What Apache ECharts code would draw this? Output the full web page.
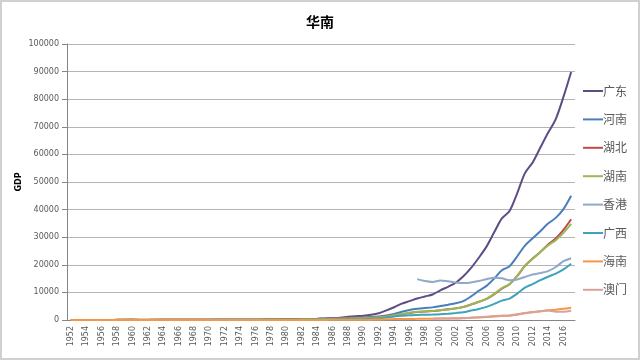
<!DOCTYPE html>
<html>
<head>
<meta charset="utf-8">
<script src="https://cdn.jsdelivr.net/npm/echarts@6/dist/echarts.min.js"></script>
<style>
html,body{margin:0;padding:0;background:#fff;}
#chart{width:640px;height:360px;}
</style>
</head>
<body>
<div id="chart"></div>
<script>
const years = [];
for (let y = 1952; y <= 2017; y++) years.push(String(y));

const titleText = '华南';
const yAxisName = 'GDP';
const seriesNames = ['广东', '河南', '湖北', '湖南', '香港', '广西', '海南', '澳门'];

const guangdong = [18,21,25,27,30,33,38,44,46,42,45,49,57,67,73,71,68,77,86,94,98,105,112,118,125,145,
  186,209,249,290,340,368,459,577,668,846,1155,1381,1559,1893,2448,3469,4619,5934,6835,7775,8531,9250,
  10741,12039,13502,15845,18865,22557,26588,31777,36797,39483,46013,53210,57068,62475,67810,72813,80855,89879];
const henan = [27,32,34,36,40,40,46,53,50,45,43,45,49,60,71,66,68,80,89,100,105,113,122,134,120,140,
  163,190,229,249,263,327,370,451,502,610,749,811,935,1045,1280,1660,2217,3003,3661,4079,4357,4576,
  5053,5533,6035,6868,8554,10587,12363,15012,18018,19480,23092,26931,29599,32191,34938,37002,40160,44988];
const hubei = [23,27,30,30,38,38,48,56,60,52,48,52,60,70,80,76,70,82,98,107,111,119,118,126,120,134,
  151,188,199,219,242,263,329,397,443,518,626,717,824,914,1088,1325,1700,2109,2500,2857,3114,3229,
  3546,3881,4213,4757,5633,6590,7617,9333,11329,12961,15968,19632,22250,24668,27379,29550,32665,36523];
const hunan = [27,30,33,35,40,41,48,52,55,47,46,52,58,68,77,78,72,84,97,103,107,113,113,126,120,130,
  147,178,191,210,232,257,287,350,397,470,584,640,744,834,1004,1285,1694,2196,2647,2993,3118,3215,
  3552,3832,4152,4660,5642,6596,7689,9440,11555,13060,16038,19670,22154,24622,27037,28902,31551,34800];
const hongkong = [null,null,null,null,null,null,null,null,null,null,null,null,null,null,null,null,null,null,null,null,null,null,null,null,null,null,
  null,null,null,null,null,null,null,null,null,null,null,null,null,null,null,null,null,null,null,14800,14100,13800,
  14300,14000,13600,13400,13600,14100,14800,15300,15100,14400,14700,15600,16500,17000,17700,19200,21300,22400];
const guangxi = [13,15,16,17,20,21,25,26,28,26,27,28,31,35,39,38,34,40,45,48,52,55,57,62,63,70,
  76,84,97,113,129,134,150,181,205,258,327,383,449,518,647,894,1242,1498,1698,1817,1911,1971,
  2080,2279,2524,2821,3434,3984,4746,5823,7021,7759,9570,11721,13035,14450,15673,16803,18317,20396];
const hainan = [3,3,4,4,4,5,5,6,6,5,6,6,7,8,9,9,8,9,10,11,11,12,13,13,14,14,
  16,18,19,22,28,31,37,43,48,57,77,91,102,120,185,260,331,363,389,411,442,477,
  527,579,643,714,819,918,1065,1254,1503,1654,2065,2523,2856,3178,3501,3703,4053,4463];
const macau = [null,null,null,null,null,null,null,null,null,null,null,null,null,null,null,null,null,null,null,null,null,null,null,null,null,null,
  null,null,null,null,null,null,null,null,null,null,null,null,null,null,null,null,null,null,null,null,null,490,
  530,520,560,630,850,960,1170,1420,1560,1500,1920,2420,2810,3200,3480,2960,2960,3360];

const yTicks = { min: 0, max: 100000, interval: 10000 };
const colors = ['#5E4C84', '#4A7EBB', '#BE4B48', '#98B954', '#90A8CA', '#3FA3BC', '#F79646', '#D8A29C'];
const dataSets = [guangdong, henan, hubei, hunan, hongkong, guangxi, hainan, macau];

const chart = echarts.init(document.getElementById('chart'), null, { renderer: 'canvas' });
chart.setOption({
  animation: false,
  color: colors,
  graphic: [{
    type: 'rect', left: 0, top: 0, z: -10,
    shape: { x: 1, y: 1, width: 638, height: 358 },
    style: { fill: '#fff', stroke: '#d0d0d0', lineWidth: 2 }
  }],
  title: {
    text: titleText, left: 'center', top: 10,
    textStyle: { fontFamily: 'Noto Sans CJK SC', fontSize: 14, fontWeight: 'bold', color: '#000' }
  },
  legend: {
    orient: 'vertical', left: 578, top: 79,
    icon: 'rect', itemWidth: 20, itemHeight: 2, itemGap: 14.4,
    textStyle: { fontFamily: 'Noto Sans CJK SC', fontSize: 12, lineHeight: 14, color: '#595959', padding: [0, 0, 0, -5] },
    data: seriesNames
  },
  grid: { left: 67, right: 65, top: 44, bottom: 40, containLabel: false },
  xAxis: {
    type: 'category', data: years, boundaryGap: true,
    axisLine: { lineStyle: { color: '#868686' } },
    axisTick: { show: false },
    axisLabel: { rotate: 90, interval: 1, fontSize: 8, color: '#595959', margin: 6, fontFamily: 'DejaVu Sans' }
  },
  yAxis: {
    type: 'value', min: yTicks.min, max: yTicks.max, interval: yTicks.interval,
    name: yAxisName, nameLocation: 'middle', nameRotate: 90, nameGap: 44, nameMoveOverlap: false,
    nameTextStyle: { fontSize: 8, fontWeight: 'bold', color: '#000', fontFamily: 'DejaVu Sans' },
    axisLine: { show: true, lineStyle: { color: '#868686' } },
    axisTick: { show: true, inside: false, length: 5, lineStyle: { color: '#868686' } },
    axisLabel: { fontSize: 8, color: '#595959', margin: 8, fontFamily: 'DejaVu Sans', formatter: v => String(v) },
    splitLine: { lineStyle: { color: '#b4b4b4' } }
  },
  series: seriesNames.map((n, i) => ({
    name: n, type: 'line', data: dataSets[i], symbol: 'none', smooth: 0.3,
    connectNulls: false,
    lineStyle: { width: 2, color: colors[i] },
    itemStyle: { color: colors[i] }
  }))
});
</script>
</body>
</html>
